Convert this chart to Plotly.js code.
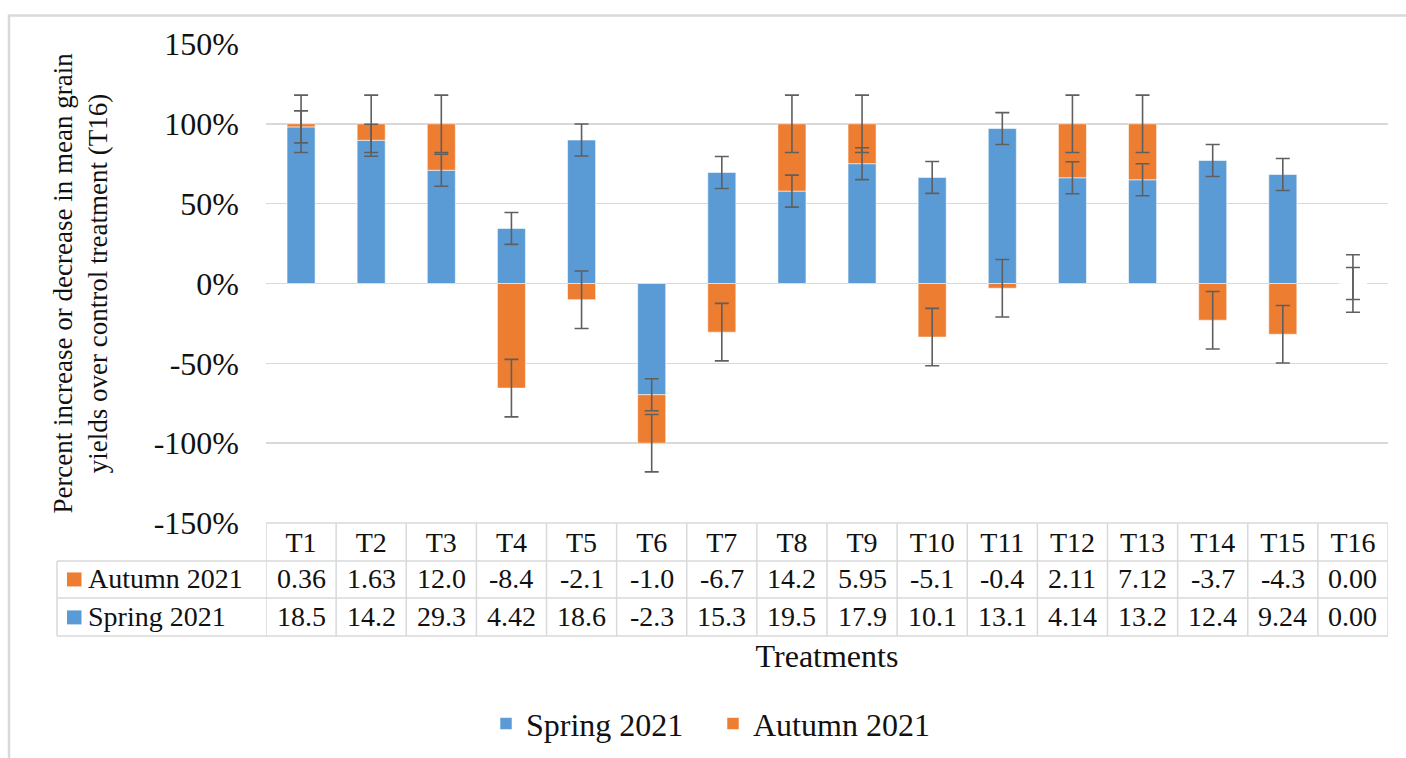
<!DOCTYPE html>
<html>
<head>
<meta charset="utf-8">
<script src="https://cdn.plot.ly/plotly-3.0.1.min.js"></script>
<style>html,body{margin:0;padding:0;background:#fff;}#chart{width:1406px;height:758px;}</style>
</head>
<body>
<div id="chart"></div>
<script>
// ---- data ----
const categories = ['T1','T2','T3','T4','T5','T6','T7','T8','T9','T10','T11','T12','T13','T14','T15','T16'];
const springValues = [18.5, 14.2, 29.3, 4.42, 18.6, -2.3, 15.3, 19.5, 17.9, 10.1, 13.1, 4.14, 13.2, 12.4, 9.24, 0.00];
const autumnValues = [0.36, 1.63, 12.0, -8.4, -2.1, -1.0, -6.7, 14.2, 5.95, -5.1, -0.4, 2.11, 7.12, -3.7, -4.3, 0.00];
const springLabels = ['18.5','14.2','29.3','4.42','18.6','-2.3','15.3','19.5','17.9','10.1','13.1','4.14','13.2','12.4','9.24','0.00'];
const autumnLabels = ['0.36','1.63','12.0','-8.4','-2.1','-1.0','-6.7','14.2','5.95','-5.1','-0.4','2.11','7.12','-3.7','-4.3','0.00'];
const springErr = [10,10,10,10,10,10,10,10,10,10,10,10,10,10,10,10];
const autumnErr = [18,18,18,18,18,18,18,18,18,18,18,18,18,18,18,18];
const yTickVals = [-150,-100,-50,0,50,100,150];
const yTickText = ['-150%','-100%','-50%','0%','50%','100%','150%'];

// ---- 100% stacked shares (Excel percent-stacked column) ----
const springPct = springValues.map((s,i)=>{const t=Math.abs(s)+Math.abs(autumnValues[i]);return t?100*s/t:0;});
const autumnPct = autumnValues.map((a,i)=>{const t=Math.abs(springValues[i])+Math.abs(a);return t?100*a/t:0;});
const autumnTop = autumnPct.map((a,i)=>{const s=springPct[i];return ((a>=0&&s>=0)||(a<0&&s<0))?s+a:a;});

// ---- geometry helpers (pixel -> paper) ----
const L=266,R=1388,T=43.5,B=523;
const px2x = px => (px-L)/(R-L);
const py2y = py => (B-py)/(B-T);

const BLUE='#5B9BD5', ORANGE='#ED7D31', GRID='#d9d9d9', TXT='#111111';
const FONT='"Liberation Serif", "Times New Roman", serif';

const traces = [
  {type:'bar', name:'Spring 2021', x:categories, y:springPct, width:0.4,
   marker:{color:BLUE, line:{color:'rgba(255,255,255,0.55)', width:1}}, hoverinfo:'skip'},
  {type:'bar', name:'Autumn 2021', x:categories, y:autumnPct, width:0.4,
   marker:{color:ORANGE, line:{color:'rgba(255,255,255,0.55)', width:1}}, hoverinfo:'skip'},
  {type:'scatter', mode:'markers', x:categories, y:springPct, showlegend:false, hoverinfo:'skip',
   marker:{size:1, color:'rgba(0,0,0,0)'},
   error_y:{type:'data', array:springErr, visible:true, color:'#5f5f5f', thickness:1.6, width:7}},
  {type:'scatter', mode:'markers', x:categories, y:autumnTop, showlegend:false, hoverinfo:'skip',
   marker:{size:1, color:'rgba(0,0,0,0)'},
   error_y:{type:'data', array:autumnErr, visible:true, color:'#5f5f5f', thickness:1.6, width:7}}
];

const shapes = [];
// outer chart-area border
shapes.push({type:'rect', xref:'paper', yref:'paper', x0:px2x(9), x1:px2x(1440), y0:py2y(15), y1:py2y(800),
  line:{color:GRID, width:2.5}, layer:'below'});
// table top (axis line)
shapes.push({type:'line', xref:'paper', yref:'paper', x0:0, x1:1, y0:0, y1:0, line:{color:GRID, width:1.5}});
// table horizontal rules
[561,598,636].forEach(py=>shapes.push({type:'line', xref:'paper', yref:'paper', x0:px2x(57), x1:1, y0:py2y(py), y1:py2y(py), line:{color:GRID, width:1.5}}));
// left edge of the key column
shapes.push({type:'line', xref:'paper', yref:'paper', x0:px2x(57), x1:px2x(57), y0:py2y(561), y1:py2y(636), line:{color:GRID, width:1.5}});
// column separators
for(let i=0;i<=categories.length;i++){
  shapes.push({type:'line', xref:'x', yref:'paper', x0:i-0.5, x1:i-0.5, y0:0, y1:py2y(636), line:{color:GRID, width:1.5}});
}
// key squares
shapes.push({type:'rect', xref:'paper', yref:'paper', x0:px2x(67), x1:px2x(81.5), y0:py2y(572.5), y1:py2y(586.5), fillcolor:ORANGE, line:{width:0}});
shapes.push({type:'rect', xref:'paper', yref:'paper', x0:px2x(67), x1:px2x(81.5), y0:py2y(610.5), y1:py2y(624.5), fillcolor:BLUE, line:{width:0}});

const annotations = [];
const rowFont = {family:FONT, size:28, color:TXT};
categories.forEach((c,i)=>{
  annotations.push({xref:'x', yref:'paper', x:c, y:py2y(579), text:autumnLabels[i], showarrow:false, xanchor:'center', yanchor:'middle', font:rowFont});
  annotations.push({xref:'x', yref:'paper', x:c, y:py2y(616.5), text:springLabels[i], showarrow:false, xanchor:'center', yanchor:'middle', font:rowFont});
});
annotations.push({xref:'paper', yref:'paper', x:px2x(86), y:py2y(579), text:'Autumn 2021', showarrow:false, xanchor:'left', yanchor:'middle', font:rowFont});
annotations.push({xref:'paper', yref:'paper', x:px2x(86), y:py2y(616.5), text:'Spring 2021', showarrow:false, xanchor:'left', yanchor:'middle', font:rowFont});

const layout = {
  width:1406, height:758,
  margin:{l:L, r:1406-R, t:T, b:758-B, pad:0, autoexpand:false},
  paper_bgcolor:'#ffffff', plot_bgcolor:'#ffffff',
  barmode:'relative',
  font:{family:FONT, color:TXT},
  showlegend:true,
  legend:{orientation:'h', x:px2x(486), xanchor:'left', y:py2y(724), yanchor:'middle',
          entrywidth:182, entrywidthmode:'pixels',
          font:{family:FONT, size:32, color:TXT}, traceorder:'normal', bgcolor:'rgba(0,0,0,0)'},
  xaxis:{type:'category', categoryorder:'array', categoryarray:categories, range:[-0.5,15.5],
         showgrid:false, zeroline:false, showline:false, ticks:'',
         tickfont:{family:FONT, size:28, color:TXT}, ticklabelstandoff:0,
         title:{text:'Treatments', font:{family:FONT, size:32, color:TXT}, standoff:87}, automargin:false},
  yaxis:{range:[-150,150], tickvals:yTickVals, ticktext:yTickText, showgrid:true, gridcolor:GRID, gridwidth:1.5,
         zeroline:true, zerolinecolor:GRID, zerolinewidth:1.5, showline:false, ticks:'',
         tickfont:{family:FONT, size:32, color:TXT}, ticklabelstandoff:26,
         title:{text:'Percent increase or decrease in mean grain<br>yields over control treatment (T16)',
                font:{family:FONT, size:27, color:TXT}, standoff:38}, automargin:false},
  shapes:shapes, annotations:annotations
};

Plotly.newPlot('chart', traces, layout, {displayModeBar:false, staticPlot:true});
</script>
</body>
</html>
